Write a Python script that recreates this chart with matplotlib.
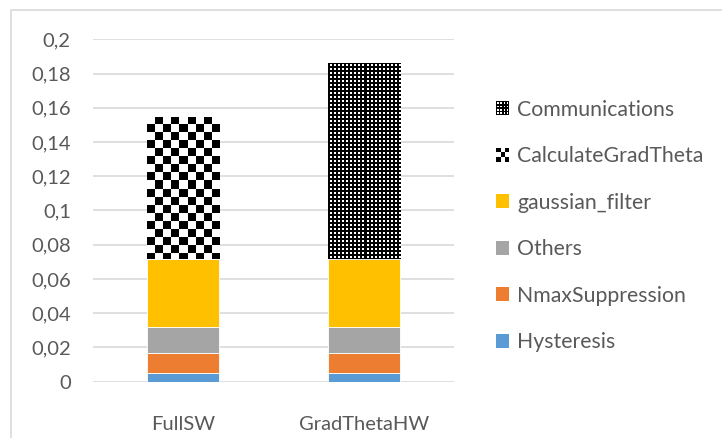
import matplotlib
matplotlib.use('Agg')
import matplotlib.pyplot as plt
import numpy as np
from matplotlib.patches import Patch, Rectangle
from matplotlib.legend_handler import HandlerBase

categories = ['FullSW', 'GradThetaHW']
hysteresis = [0.005, 0.005]
nmax_suppression = [0.012, 0.012]
others = [0.015, 0.015]
gaussian_filter = [0.0395, 0.0395]
calc_grad_theta = [0.083, 0.0]
communications = [0.0, 0.1148]
yticks = [0, 0.02, 0.04, 0.06, 0.08, 0.1, 0.12, 0.14, 0.16, 0.18, 0.2]

txt = '#595959'
grid_c = '#d9d9d9'
plt.rcParams['font.family'] = ['Lato', 'DejaVu Sans']
fs = 14.5
lfs = 15.3

fig = plt.figure(figsize=(7.22, 4.38), dpi=100)
ax = fig.add_axes([93 / 722, 56.3 / 438, 361 / 722, 342.4 / 438])
fig.patches.append(Rectangle((11 / 722, -0.1), 1.0, (438 - 10) / 438 + 0.1,
                             transform=fig.transFigure, fill=False,
                             edgecolor=grid_c, lw=1.2))

x = np.arange(len(categories))
w = 0.4
series = [
    ('Hysteresis', hysteresis, '#5B9BD5'),
    ('NmaxSuppression', nmax_suppression, '#ED7D31'),
    ('Others', others, '#A5A5A5'),
    ('gaussian_filter', gaussian_filter, '#FFC000'),
    ('CalculateGradTheta', calc_grad_theta, 'white'),
    ('Communications', communications, 'black'),
]
bottom = np.zeros(len(categories))
bars = {}
for name, vals, col in series:
    bars[name] = ax.bar(x, vals, w, bottom=bottom, color=col, edgecolor='white', lw=0.6, zorder=2)
    bottom += np.array(vals)

ax.set_xlim(-0.5, 1.5)
ax.set_ylim(0, 0.2)
ax.set_yticks(yticks)
ax.set_yticklabels([('%g' % v).replace('.', ',') for v in yticks])
ax.set_xticks(x)
ax.set_xticklabels(categories)
ax.tick_params(length=0, labelsize=fs, labelcolor=txt)
ax.tick_params(axis='y', pad=16)
ax.tick_params(axis='x', pad=25)
ax.grid(axis='y', color=grid_c, lw=1.2, zorder=0)
for s in ax.spines.values():
    s.set_visible(False)


def texture(patch, kind):
    x0, y0 = patch.get_x(), patch.get_y()
    x1, y1 = x0 + patch.get_width(), y0 + patch.get_height()
    if y1 - y0 <= 0:
        return
    p0 = ax.transData.transform((x0, y0))
    p1 = ax.transData.transform((x1, y1))
    ncol = int(round(p1[0] - p0[0]))
    nrow = int(round(p1[1] - p0[1]))
    r, c = np.mgrid[0:nrow, 0:ncol]
    if kind == 'checker':
        img = ((r // 8 + c // 8) % 2 == 0).astype(float)
    else:
        img = ((r % 4 >= 2) & (c % 4 >= 2)).astype(float)
    im = ax.imshow(img, cmap='gray', vmin=0, vmax=1, interpolation='nearest',
                   extent=(x0, x1, y0, y1), origin='upper', aspect='auto', zorder=3)
    im.set_clip_path(patch)


for p in bars['CalculateGradTheta']:
    texture(p, 'checker')
for p in bars['Communications']:
    texture(p, 'dots')
ax.set_xlim(-0.5, 1.5)
ax.set_ylim(0, 0.2)


class PatternHandler(HandlerBase):
    def __init__(self, kind):
        super().__init__()
        self.kind = kind

    def create_artists(self, legend, orig_handle, xdescent, ydescent, width, height, fontsize, trans):
        x0, y0 = -xdescent, -ydescent
        if self.kind == 'checker':
            arts = [Rectangle((x0, y0), width, height, facecolor='white', edgecolor='none', transform=trans)]
            n = 3
            for i in range(n):
                for j in range(n):
                    if (i + j) % 2 == 0:
                        arts.append(Rectangle((x0 + i * width / n, y0 + j * height / n), width / n, height / n,
                                              facecolor='black', edgecolor='none', transform=trans))
        else:
            arts = [Rectangle((x0, y0), width, height, facecolor='black', edgecolor='none', transform=trans)]
            n = 4
            cw, ch = width / n, height / n
            for i in range(n):
                for j in range(n):
                    arts.append(Rectangle((x0 + i * cw + cw * 0.25, y0 + j * ch + ch * 0.25), cw * 0.5, ch * 0.5,
                                          facecolor='white', edgecolor='none', transform=trans))
        return arts


handles = []
labels = []
hmap = {}
for name, vals, col in reversed(series):
    h = Patch(facecolor=col)
    if name == 'CalculateGradTheta':
        hmap[h] = PatternHandler('checker')
    elif name == 'Communications':
        hmap[h] = PatternHandler('dots')
    handles.append(h)
    labels.append(name)

leg = fig.legend(handles, labels, handler_map=hmap, loc='center left',
                 bbox_to_anchor=(477 / 722, 1 - 226 / 438), frameon=False,
                 fontsize=lfs, labelcolor=txt, handlelength=0.62, handleheight=0.62,
                 handletextpad=0.38, labelspacing=1.25)

fig.savefig('out.png', dpi=100)
